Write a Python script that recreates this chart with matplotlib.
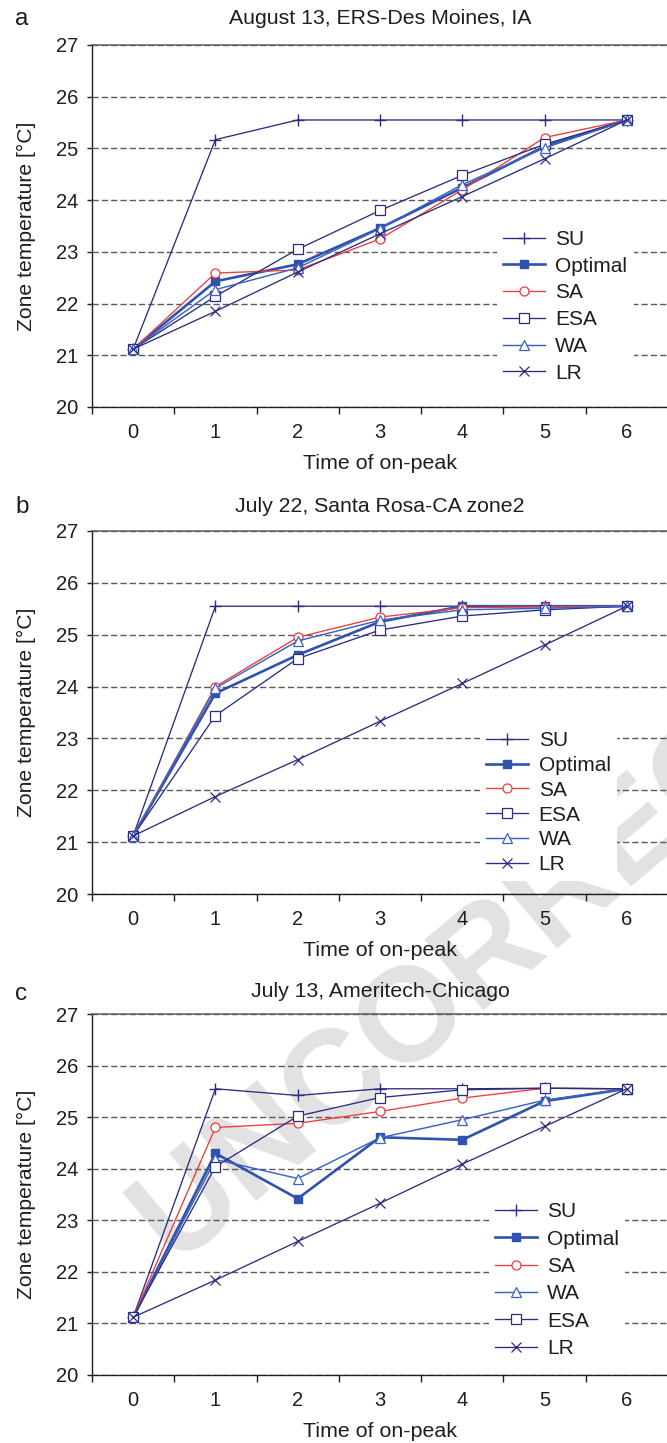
import matplotlib
matplotlib.use("Agg")
import matplotlib.pyplot as plt
from matplotlib.ticker import FixedLocator

plt.rcParams["font.family"] = ["Liberation Sans", "DejaVu Sans"]

# ---------------------------------------------------------------- data
hours = [0, 1, 2, 3, 4, 5, 6]

a_su = [21.12, 25.17, 25.55, 25.55, 25.55, 25.55, 25.55]
a_opt = [21.12, 22.43, 22.76, 23.46, 24.24, 25.04, 25.55]
a_sa = [21.12, 22.59, 22.65, 23.25, 24.20, 25.21, 25.55]
a_esa = [21.12, 22.14, 23.05, 23.80, 24.48, 25.08, 25.55]
a_wa = [21.12, 22.27, 22.69, 23.45, 24.30, 25.01, 25.55]
a_lr = [21.12, 21.85, 22.61, 23.35, 24.07, 24.80, 25.55]

b_su = [21.12, 25.55, 25.55, 25.55, 25.55, 25.55, 25.55]
b_opt = [21.12, 23.87, 24.61, 25.25, 25.55, 25.55, 25.55]
b_sa = [21.12, 24.00, 24.95, 25.34, 25.52, 25.54, 25.55]
b_esa = [21.12, 23.44, 24.54, 25.09, 25.36, 25.48, 25.55]
b_wa = [21.12, 23.97, 24.88, 25.28, 25.48, 25.51, 25.55]
b_lr = [21.12, 21.88, 22.59, 23.33, 24.06, 24.80, 25.55]

c_su = [21.12, 25.55, 25.42, 25.55, 25.55, 25.56, 25.55]
c_opt = [21.12, 24.30, 23.42, 24.61, 24.56, 25.31, 25.55]
c_sa = [21.12, 24.80, 24.88, 25.11, 25.37, 25.56, 25.55]
c_wa = [21.12, 24.18, 23.81, 24.60, 24.95, 25.33, 25.55]
c_esa = [21.12, 24.04, 25.02, 25.38, 25.53, 25.56, 25.55]
c_lr = [21.12, 21.84, 22.59, 23.33, 24.09, 24.82, 25.55]

titles = ["August 13, ERS-Des Moines, IA",
          "July 22, Santa Rosa-CA zone2",
          "July 13, Ameritech-Chicago"]
panel_tags = ["a", "b", "c"]
y_ticks = [20, 21, 22, 23, 24, 25, 26, 27]

panels = [
    [("SU", a_su), ("Optimal", a_opt), ("SA", a_sa),
     ("ESA", a_esa), ("WA", a_wa), ("LR", a_lr)],
    [("SU", b_su), ("Optimal", b_opt), ("SA", b_sa),
     ("ESA", b_esa), ("WA", b_wa), ("LR", b_lr)],
    [("SU", c_su), ("Optimal", c_opt), ("SA", c_sa),
     ("WA", c_wa), ("ESA", c_esa), ("LR", c_lr)],
]

# ---------------------------------------------------------------- styles
NAVY = "#2c2c80"
BLUE = "#2f53ad"
LBLUE = "#3c63c2"
RED = "#ee3b3b"

styles = {
    "SU": dict(color=NAVY, marker="+", ms=8, mew=1.0, lw=0.95),
    "Optimal": dict(color=BLUE, marker="s", ms=6, mfc=BLUE, mec=BLUE, lw=1.9),
    "SA": dict(color=RED, marker="o", ms=6.5, mfc="white", mew=0.9, lw=0.95),
    "ESA": dict(color=NAVY, marker="s", ms=6.5, mfc="white", mew=0.9, lw=0.95),
    "WA": dict(color=LBLUE, marker="^", ms=7, mfc="white", mew=0.9, lw=1.05),
    "LR": dict(color=NAVY, marker="x", ms=7, mew=0.9, lw=0.95),
}

W, H = 667, 1443
fig = plt.figure(figsize=(W / 100, H / 100), dpi=100)

# light diagonal stamp behind the panels
fig.text(176 / W, 1 - 1268 / H, "UNCORRECTED PROOF", rotation=40,
         rotation_mode="anchor", ha="left", va="baseline", fontsize=96,
         fontweight="bold", color="#e2e2e2", zorder=-1)

# axes boxes in pixels: left, top, right, bottom
boxes = [(92, 45, 668, 407), (92, 531, 668, 894), (92, 1014, 668, 1375)]
title_pads = [15, 14, 12.5]
tag_y = [25, 513, 1000]
legend_anchor = [(0.703, 0.506), (0.674, 0.466), (0.689, 0.496)]
legend_spacing = [0.37, 0.28, 0.40]

TXT = "#1e1e1e"

for k, (l, t, r, b) in enumerate(boxes):
    ax = fig.add_axes([l / W, 1 - b / H, (r - l) / W, (b - t) / H])
    ax.patch.set_visible(False)

    for name, vals in panels[k]:
        ax.plot(hours, vals, label=name, **styles[name])

    ax.set_xlim(-0.5, 6.5)
    ax.set_ylim(20, 27)
    ax.set_xticks(hours)
    ax.xaxis.set_minor_locator(FixedLocator([h - 0.5 for h in hours] + [6.5]))
    ax.set_yticks(y_ticks)
    ax.tick_params(axis="x", which="major", length=0, pad=11.5,
                   labelsize=14.5, labelcolor=TXT)
    ax.tick_params(axis="x", which="minor", length=5, width=1.0,
                   direction="out", color=TXT)
    ax.tick_params(axis="y", which="major", length=3.6, width=1.0,
                   direction="out", pad=6.5, labelsize=14.5,
                   labelcolor=TXT, color=TXT)

    ax.spines["right"].set_visible(False)
    ax.spines["top"].set_color("#5e5e5e")
    ax.spines["top"].set_linewidth(1.1)
    for s in ("left", "bottom"):
        ax.spines[s].set_color(TXT)
        ax.spines[s].set_linewidth(1.0)

    ax.yaxis.grid(True, color="#5a5a5a", linestyle=(0, (4.5, 2.2)), lw=1.0)
    ax.set_axisbelow(True)

    ax.set_ylabel("Zone temperature [°C]", fontsize=15.2, color=TXT, va="center")
    ax.yaxis.set_label_coords(-0.113, 0.5)
    ax.set_xlabel("Time of on-peak", fontsize=15.4, color=TXT, va="center")
    ax.xaxis.set_label_coords(0.5, -0.157)

    ax.set_title(titles[k], fontsize=15.3, color=TXT, pad=title_pads[k])

    fig.text(15 / W, 1 - tag_y[k] / H, panel_tags[k], fontsize=17.5,
             color=TXT, ha="left", va="baseline")

    ax.legend(loc="upper left", bbox_to_anchor=legend_anchor[k],
              frameon=True, fancybox=False, edgecolor="none",
              facecolor="white", framealpha=1.0, borderpad=0.3,
              borderaxespad=0, handlelength=2.0, handletextpad=0.5,
              labelspacing=legend_spacing[k], fontsize=15,
              labelcolor=TXT)

fig.savefig("out.png", dpi=100)
